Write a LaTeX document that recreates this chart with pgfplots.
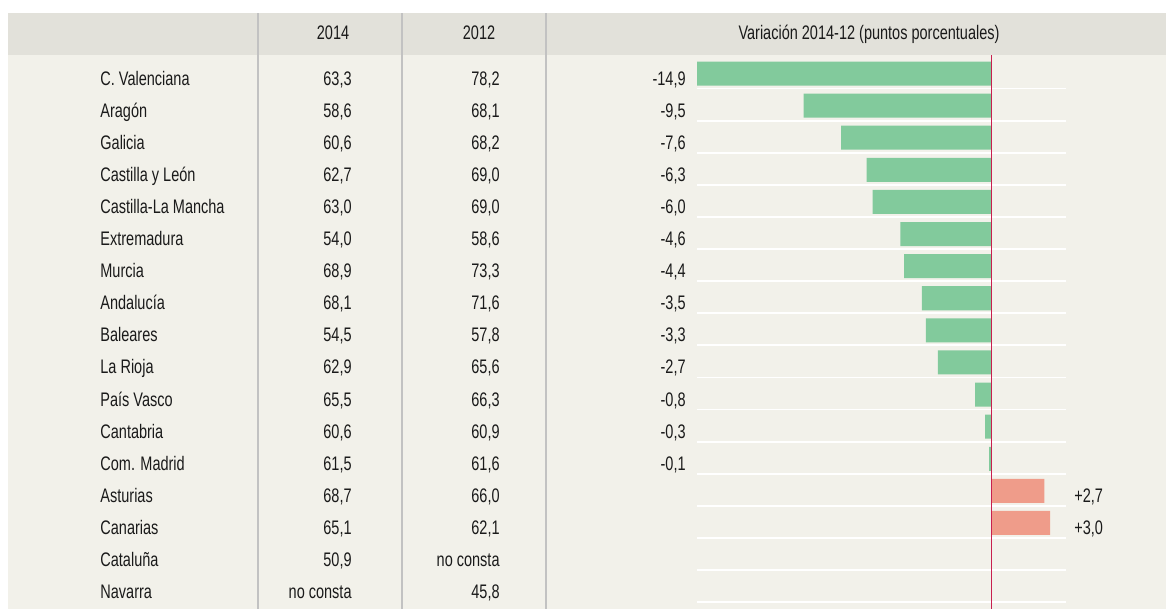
\documentclass[border=0pt]{standalone}
\usepackage{pgfplots}
\pgfplotsset{compat=1.18}
\usepackage{pgfplotstable}
\usepackage{fontspec}
\setmainfont{Liberation Sans}[FakeStretch=0.74]

\definecolor{hdr}{HTML}{E2E1DA}
\definecolor{bodybg}{HTML}{F2F1EA}
\definecolor{sep}{HTML}{C2C2C2}
\definecolor{neg}{HTML}{82CA9C}
\definecolor{pos}{HTML}{EF9C8A}
\definecolor{zero}{HTML}{C8204F}
\definecolor{txt}{HTML}{1A1A1A}

% variation 2014-12, row index from top
\pgfplotstableread{
row diff
0  -14.9
1  -9.5
2  -7.6
3  -6.3
4  -6.0
5  -4.6
6  -4.4
7  -3.5
8  -3.3
9  -2.7
10 -0.8
11 -0.3
12 -0.1
}\negdata
\pgfplotstableread{
row diff
13 2.7
14 3.0
}\posdata

% one table row: index, name, 2014, 2012, variation label
\newcommand{\tabrow}[5]{%
  \node[anchor=base west] at (100,{85+32.1*#1}) {#2};
  \node[anchor=base east] at (352,{85+32.1*#1}) {#3};
  \node[anchor=base east] at (500,{85+32.1*#1}) {#4};
  #5}
\newcommand{\neglab}[2]{\node[anchor=base east] at (686,{85+32.1*#1}) {#2};}
\newcommand{\poslab}[2]{\node[anchor=base west] at (1074,{85+32.1*#1}) {#2};}

\begin{document}
\begin{tikzpicture}[font=\fontsize{9.8}{11}\selectfont, text=txt]
\begin{scope}[x=0.5pt,y=-0.5pt]
  \fill[white] (0,0) rectangle (1166,609);
  \fill[bodybg] (8,55) rectangle (1166,609);
  \fill[hdr] (8,13) rectangle (1166,55);
  \foreach \xx in {258,402,546}
    \draw[sep, line width=0.75pt] (\xx,13) -- (\xx,609);
  \foreach \k in {0,...,16}
    \draw[white, line width=0.9pt] (697,{88.5+32.1*\k}) -- (1066,{88.5+32.1*\k});
\end{scope}

\begin{axis}[
    at={(348.5pt,-304.5pt)}, anchor=south west,
    scale only axis, width=184.5pt, height=277pt,
    xmin=-14.9, xmax=3.8,
    ymin=-0.576, ymax=16.68,
    y dir=reverse,
    hide axis, clip=false,
  ]
  \addplot[xbar, bar width=0.748, bar shift=0pt, fill=neg, draw=none]
    table[x=diff, y=row] {\negdata};
  \addplot[xbar, bar width=0.748, bar shift=0pt, fill=pos, draw=none]
    table[x=diff, y=row] {\posdata};
  \draw[zero, line width=0.7pt] (axis cs:0.02,-0.576) -- (axis cs:0.02,16.68);
\end{axis}

\begin{scope}[x=0.5pt,y=-0.5pt, every node/.style={inner sep=0pt}]
  \node[anchor=base] at (333,39.5) {2014};
  \node[anchor=base] at (479,39.5) {2012};
  \node[anchor=base] at (869,39.5) {Variación 2014-12 (puntos porcentuales)};
  \tabrow{0}{C. Valenciana}{63,3}{78,2}{\neglab{0}{-14,9}}
  \tabrow{1}{Aragón}{58,6}{68,1}{\neglab{1}{-9,5}}
  \tabrow{2}{Galicia}{60,6}{68,2}{\neglab{2}{-7,6}}
  \tabrow{3}{Castilla y León}{62,7}{69,0}{\neglab{3}{-6,3}}
  \tabrow{4}{Castilla-La Mancha}{63,0}{69,0}{\neglab{4}{-6,0}}
  \tabrow{5}{Extremadura}{54,0}{58,6}{\neglab{5}{-4,6}}
  \tabrow{6}{Murcia}{68,9}{73,3}{\neglab{6}{-4,4}}
  \tabrow{7}{Andalucía}{68,1}{71,6}{\neglab{7}{-3,5}}
  \tabrow{8}{Baleares}{54,5}{57,8}{\neglab{8}{-3,3}}
  \tabrow{9}{La Rioja}{62,9}{65,6}{\neglab{9}{-2,7}}
  \tabrow{10}{País Vasco}{65,5}{66,3}{\neglab{10}{-0,8}}
  \tabrow{11}{Cantabria}{60,6}{60,9}{\neglab{11}{-0,3}}
  \tabrow{12}{Com. Madrid}{61,5}{61,6}{\neglab{12}{-0,1}}
  \tabrow{13}{Asturias}{68,7}{66,0}{\poslab{13}{+2,7}}
  \tabrow{14}{Canarias}{65,1}{62,1}{\poslab{14}{+3,0}}
  \tabrow{15}{Cataluña}{50,9}{no consta}{}
  \tabrow{16}{Navarra}{no consta}{45,8}{}
\end{scope}
\end{tikzpicture}
\end{document}
